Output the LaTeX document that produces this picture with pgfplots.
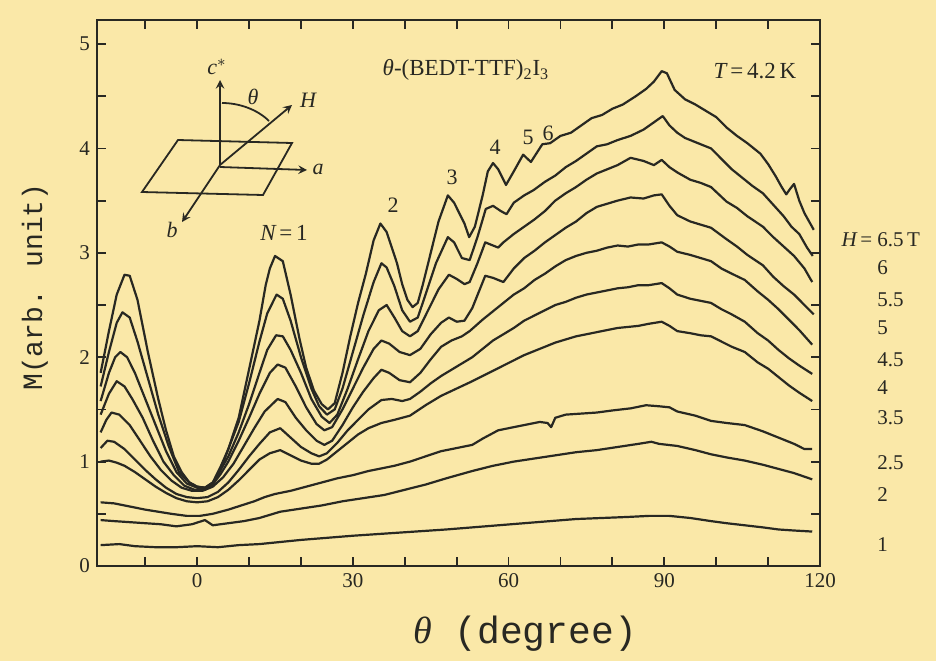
\documentclass[border=0pt]{standalone}
\usepackage{pgfplots}
\pgfplotsset{compat=1.18}
\usepackage{fontspec}
\setmainfont{Liberation Serif}
\newfontfamily\monof{Liberation Mono}
\definecolor{bg}{RGB}{250,232,168}
\definecolor{ink}{RGB}{40,40,34}
\begin{document}
\begin{tikzpicture}
\fill[bg] (0,0) rectangle (468pt,330.5pt);
\useasboundingbox (0,0) rectangle (468pt,330.5pt);
\begin{axis}[
  at={(48.5pt,47.5pt)}, anchor=south west, scale only axis,
  width=361.5pt, height=273pt,
  xmin=-19.3, xmax=120, ymin=0, ymax=5.23,
  xtick={0,30,60,90,120},
  minor xtick={-10,10,20,40,50,70,80,100,110},
  ytick={0,1,2,3,4,5},
  minor ytick={0.5,1.5,2.5,3.5,4.5},
  tick align=inside,
  major tick length=4.5pt, minor tick length=4.5pt,
  tick style={line width=0.9pt, ink},
  axis line style={line width=1pt, ink},
  tick label style={font=\fontsize{10.5}{12}\selectfont, text=ink},
  /pgf/number format/assume math mode=true,
  cycle list={{ink}},
  every axis plot post/.append style={ink, solid, line width=1.1pt, mark=none, line join=round},
  clip=true,
]
% H = 6.5 T
\addplot coordinates {(-18.6,1.85) (-17,2.25) (-15.5,2.6) (-14,2.79) (-13,2.78) (-11.5,2.55) (-9.5,2.05) (-7.5,1.6) (-6,1.3) (-4.5,1.05) (-3,0.9) (-1.5,0.8) (0,0.76) (1.5,0.75) (3,0.78) (4.5,0.92) (6,1.12) (8,1.42) (10.5,2.0) (12,2.35) (13.2,2.69) (14,2.85) (15,2.97) (16.5,2.92) (18,2.6) (19.7,2.18) (21,1.9) (22.5,1.68) (24,1.55) (25.2,1.5) (26.5,1.56) (28,1.85) (29.5,2.2) (31,2.52) (32.5,2.8) (34,3.12) (35.3,3.28) (36.5,3.2) (37.5,3.05) (38.5,2.9) (39.5,2.7) (40.5,2.55) (41.5,2.48) (42.5,2.52) (43.5,2.7) (45,3.0) (46.5,3.3) (48.3,3.55) (49.5,3.48) (50.5,3.38) (51.5,3.28) (52.4,3.15) (53.5,3.25) (55,3.55) (56,3.78) (57,3.86) (58,3.8) (59.5,3.65) (61,3.78) (62.8,3.94) (64.3,3.87) (66.5,4.04) (68,4.05) (70,4.12) (72,4.15) (74,4.22) (76,4.29) (78,4.32) (80,4.38) (82,4.42) (84.5,4.5) (86.5,4.57) (88,4.64) (89.5,4.74) (90.5,4.72) (92,4.56) (94,4.47) (96,4.42) (98,4.36) (100,4.3) (102,4.2) (104,4.12) (106,4.05) (108.5,3.95) (110,3.85) (111.5,3.73) (112.5,3.64) (113.5,3.56) (114.2,3.61) (115,3.66) (116,3.5) (117,3.38) (118.8,3.22)};
% H = 6 T
\addplot coordinates {(-18.6,1.72) (-17,2.05) (-15.5,2.33) (-14.4,2.43) (-13,2.38) (-11.5,2.15) (-9.5,1.8) (-7.5,1.45) (-5.5,1.15) (-3.5,0.9) (-1.5,0.8) (0,0.76) (1.5,0.75) (3,0.8) (4.5,0.95) (6,1.12) (8,1.38) (10,1.75) (12,2.15) (13.5,2.42) (15.3,2.6) (16.5,2.56) (18,2.35) (20,2.0) (22,1.7) (23.5,1.53) (25,1.45) (26.5,1.5) (28,1.7) (30,2.05) (32,2.4) (34,2.72) (35.5,2.9) (36.5,2.86) (38,2.68) (39.5,2.45) (41,2.34) (42.5,2.38) (44,2.6) (46,2.9) (48.3,3.15) (49.5,3.1) (51,2.95) (52.5,2.93) (54,3.15) (55.6,3.42) (57,3.45) (58.5,3.4) (59.6,3.37) (61,3.48) (63,3.55) (64.8,3.6) (67,3.68) (69,3.74) (71,3.82) (73,3.88) (75,3.95) (77,4.02) (79,4.04) (81,4.08) (83.5,4.12) (86,4.18) (88,4.25) (89.7,4.31) (91,4.22) (92.5,4.15) (94,4.1) (96,4.06) (99,4.0) (101,3.9) (103,3.8) (105,3.72) (107,3.64) (109,3.57) (111,3.46) (113,3.35) (114.5,3.25) (116,3.18) (117.5,3.05) (118.6,2.97)};
% H = 5.5 T
\addplot coordinates {(-18.6,1.58) (-17,1.85) (-15.8,2.0) (-14.8,2.05) (-13.5,2.0) (-12,1.85) (-10,1.6) (-8,1.35) (-6,1.1) (-4,0.9) (-2,0.79) (0,0.75) (1.5,0.75) (3,0.8) (4.5,0.92) (6,1.05) (8,1.28) (10,1.55) (12,1.85) (13.5,2.07) (15.2,2.21) (16.5,2.2) (18,2.07) (20,1.85) (22,1.6) (24,1.43) (25.5,1.37) (27,1.45) (29,1.7) (31,1.98) (33,2.25) (35,2.45) (36.5,2.5) (38,2.38) (39.5,2.25) (41,2.2) (42.5,2.25) (44.5,2.45) (46.5,2.65) (48.5,2.79) (50,2.75) (51.5,2.7) (52.5,2.72) (54,2.9) (55.5,3.1) (57,3.07) (58,3.05) (59,3.1) (61,3.18) (63,3.25) (65,3.32) (67,3.4) (69,3.5) (71,3.57) (73,3.63) (75,3.7) (77,3.76) (79,3.8) (81,3.84) (83.5,3.91) (86,3.88) (88,3.84) (89.5,3.89) (91,3.82) (92.5,3.77) (95,3.7) (97,3.67) (99,3.63) (102,3.49) (104,3.43) (106,3.35) (109,3.25) (111,3.15) (113,3.06) (115,2.97) (117,2.85) (118.5,2.72)};
% H = 5 T
\addplot coordinates {(-18.6,1.45) (-17,1.65) (-15.5,1.77) (-14,1.72) (-12.5,1.6) (-10.5,1.42) (-8.5,1.2) (-6.5,1.0) (-4.5,0.87) (-2.5,0.77) (-0.5,0.73) (1.5,0.73) (3,0.78) (4.5,0.88) (6,1.0) (8,1.2) (10,1.42) (12,1.65) (14,1.85) (15.5,1.93) (17,1.9) (19,1.72) (21,1.52) (23,1.36) (24.5,1.3) (26,1.33) (28,1.5) (30,1.7) (32,1.9) (34,2.08) (35.5,2.16) (37,2.13) (39,2.05) (41,2.02) (43,2.08) (45,2.22) (47,2.33) (48.5,2.38) (50,2.34) (51.5,2.35) (53,2.47) (55.5,2.78) (57,2.76) (59,2.72) (61,2.85) (63,2.95) (65,3.02) (67,3.1) (69,3.17) (71,3.24) (73,3.3) (75,3.38) (77,3.44) (79,3.47) (81,3.5) (83.5,3.53) (86,3.52) (88,3.55) (89.5,3.56) (91,3.45) (92.5,3.36) (95,3.3) (97,3.27) (99,3.24) (102,3.13) (104,3.06) (106,2.98) (109,2.88) (111,2.77) (113,2.68) (115,2.6) (117,2.5) (118.8,2.41)};
% H = 4.5 T
\addplot coordinates {(-18.6,1.28) (-17.5,1.4) (-16.5,1.47) (-15,1.45) (-13,1.35) (-11,1.2) (-9,1.05) (-7,0.92) (-5,0.82) (-3,0.75) (-1,0.72) (1,0.72) (3,0.76) (5,0.85) (7,0.98) (9,1.15) (11,1.32) (13,1.48) (15.5,1.6) (17,1.57) (19,1.42) (21,1.3) (23,1.2) (24.5,1.16) (26,1.2) (28,1.35) (30,1.52) (32,1.67) (34,1.8) (35.5,1.88) (37,1.85) (39,1.78) (41,1.76) (43,1.85) (45,1.98) (47,2.1) (49,2.16) (51,2.2) (52.5,2.25) (55,2.36) (57,2.44) (59,2.52) (61,2.6) (63,2.66) (65,2.74) (67,2.8) (69,2.87) (71,2.93) (73,2.97) (75,3.0) (77,3.02) (79,3.05) (81,3.07) (83,3.06) (85,3.08) (87,3.08) (89.5,3.1) (91,3.06) (92.5,3.01) (95,2.98) (97,2.95) (99,2.92) (101,2.85) (103,2.8) (105.5,2.74) (108,2.63) (110,2.55) (112,2.46) (114,2.36) (116,2.26) (118.5,2.12)};
% H = 4 T
\addplot coordinates {(-18.6,1.13) (-17.3,1.2) (-16,1.19) (-14,1.12) (-12,1.02) (-10,0.92) (-8,0.83) (-6,0.75) (-4,0.69) (-2,0.66) (0,0.65) (2,0.66) (4,0.71) (6,0.8) (8,0.92) (10,1.05) (12,1.17) (14,1.28) (16,1.32) (18,1.23) (20,1.14) (22,1.08) (23.5,1.05) (25,1.08) (27,1.18) (29,1.3) (31,1.4) (33,1.5) (35.5,1.59) (37.5,1.6) (39.5,1.58) (41,1.6) (43,1.67) (45,1.75) (47,1.82) (49,1.88) (51,1.94) (53,2.0) (55,2.08) (57,2.16) (59,2.22) (61,2.28) (63,2.35) (65,2.4) (67,2.45) (69,2.5) (71,2.53) (73,2.57) (75,2.6) (77,2.62) (79,2.64) (81,2.66) (83,2.67) (85,2.69) (87,2.69) (89.5,2.71) (91,2.66) (92.5,2.6) (95,2.56) (97,2.54) (99,2.52) (101,2.46) (103,2.41) (105.5,2.34) (108,2.23) (110,2.16) (112,2.07) (114,1.99) (116,1.92) (118.5,1.84)};
% H = 3.5 T
\addplot coordinates {(-18.6,1.0) (-17,1.01) (-15.5,0.99) (-14,0.96) (-12,0.9) (-10,0.83) (-8,0.76) (-6,0.7) (-4,0.65) (-2,0.62) (0,0.61) (2,0.62) (4,0.66) (6,0.73) (8,0.82) (10,0.92) (12,1.02) (14,1.08) (16,1.11) (18,1.06) (20,1.01) (22,0.98) (23.5,0.98) (25,1.02) (27,1.1) (29,1.18) (31,1.26) (33,1.32) (35.5,1.37) (38,1.4) (41,1.44) (44,1.54) (47,1.63) (50,1.7) (53,1.77) (55,1.82) (57,1.87) (59,1.92) (61,1.97) (63,2.02) (65,2.06) (67,2.1) (69,2.14) (71,2.17) (73,2.2) (75,2.22) (77,2.24) (79,2.26) (81,2.28) (83,2.29) (85,2.3) (87,2.32) (89.5,2.34) (91,2.3) (92.5,2.25) (95,2.23) (97,2.21) (99,2.2) (101,2.15) (103,2.1) (105.5,2.05) (108,1.95) (110,1.89) (112,1.81) (114,1.73) (116,1.66) (118.5,1.58)};
% H = 2.5 T
\addplot coordinates {(-18.6,0.61) (-16,0.6) (-13,0.57) (-10,0.54) (-7.5,0.52) (-5,0.5) (-2,0.48) (0.5,0.48) (3,0.5) (6,0.54) (8.5,0.58) (11,0.62) (13,0.66) (15,0.69) (18,0.72) (21,0.76) (24,0.8) (27,0.84) (30,0.87) (33,0.91) (36,0.94) (38,0.96) (41,1.0) (44,1.05) (47,1.1) (50,1.13) (53,1.16) (55,1.22) (58,1.3) (61,1.33) (64,1.36) (66,1.38) (67.5,1.37) (68.2,1.33) (69,1.42) (71,1.45) (74,1.46) (77,1.47) (80,1.49) (83.5,1.51) (86.5,1.54) (89,1.53) (91,1.52) (92.5,1.48) (96,1.44) (99,1.39) (102,1.37) (105.5,1.35) (109,1.29) (112,1.23) (115,1.17) (117,1.12) (118.5,1.12)};
% H = 2 T
\addplot coordinates {(-18.6,0.44) (-16,0.43) (-13,0.42) (-10,0.41) (-7,0.4) (-4,0.38) (-1,0.4) (1.5,0.44) (3,0.39) (6,0.41) (9,0.43) (12,0.46) (16,0.52) (20,0.55) (24,0.58) (28,0.62) (32,0.65) (36,0.68) (40,0.73) (44,0.78) (48,0.84) (53,0.91) (57,0.96) (61,1.0) (65,1.03) (69,1.06) (73,1.09) (77,1.11) (81,1.14) (85,1.17) (87.5,1.19) (89,1.17) (92.5,1.15) (96,1.11) (99,1.07) (102,1.04) (105.5,1.01) (109,0.97) (112,0.93) (115,0.89) (118.5,0.83)};
% H = 1 T
\addplot coordinates {(-18.6,0.2) (-15,0.21) (-12,0.19) (-8,0.18) (-4,0.18) (0,0.19) (4,0.18) (8,0.2) (12,0.21) (16,0.23) (20,0.25) (25,0.27) (30,0.29) (36,0.31) (42,0.33) (48,0.35) (53,0.37) (58,0.39) (63,0.41) (68,0.43) (73,0.45) (78,0.46) (83,0.47) (87,0.48) (91,0.48) (95,0.46) (99,0.43) (102,0.41) (105.5,0.39) (109,0.37) (112,0.35) (115,0.34) (118.5,0.33)};
\end{axis}
\begin{scope}[x=0.5pt,y=-0.5pt,yshift=330.5pt, text=ink]
% axis labels
\node[rotate=90, font=\monof\fontsize{14}{16}\selectfont] at (35,287) {M(arb. unit)};
\node[font=\monof\fontsize{19}{21}\selectfont] at (525,634) {{\rmfamily\itshape θ} (degree)};
% annotations
\node[font=\fontsize{11.5}{13}\selectfont] at (466,70) {{\itshape θ}-(BEDT-TTF)$_{\mathrm{2}}$I$_{\mathrm{3}}$};
\node[font=\fontsize{11.5}{13}\selectfont] at (755,71) {{\itshape T}\,=\,4.2\,K};
\node[font=\fontsize{11.5}{13}\selectfont] at (284,233) {{\itshape N}\,=\,1};
\node[font=\fontsize{11}{13}\selectfont] at (393,205) {2};
\node[font=\fontsize{11}{13}\selectfont] at (452,177) {3};
\node[font=\fontsize{11}{13}\selectfont] at (495,147) {4};
\node[font=\fontsize{11}{13}\selectfont] at (528,137) {5};
\node[font=\fontsize{11}{13}\selectfont] at (548,133) {6};
% field labels
\begin{scope}[every node/.style={font=\fontsize{10.5}{12}\selectfont, anchor=west, inner sep=0pt}]
\node[anchor=east] at (876,240) {{\itshape H}\,=\,};
\node at (877,240) {6.5\,T};
\node at (877,268) {6};
\node at (877,300) {5.5};
\node at (877,328) {5};
\node at (877,360) {4.5};
\node at (877,388) {4};
\node at (877,418) {3.5};
\node at (877,463) {2.5};
\node at (877,495) {2};
\node at (877,545) {1};
\end{scope}
% inset diagram
\begin{scope}[draw=ink, line width=0.9pt, >=stealth]
\draw (142,192) -- (178,140) -- (292,143) -- (263,195) -- cycle;
\draw[->] (220,165) -- (220,80);
\draw[->] (220,167) -- (307,170);
\draw[->] (220,165) -- (292,105);
\draw[->] (220,165) -- (182,222);
\draw (222,103) .. controls (240,103) and (258,110) .. (269,121);
\end{scope}
\node[font=\fontsize{11}{13}\selectfont\itshape] at (217,67) {c$^{*}$};
\node[font=\fontsize{11}{13}\selectfont\itshape] at (253,97) {θ};
\node[font=\fontsize{11}{13}\selectfont\itshape] at (308,100) {H};
\node[font=\fontsize{11}{13}\selectfont\itshape] at (318,169) {a};
\node[font=\fontsize{11}{13}\selectfont\itshape] at (172,230) {b};
\end{scope}
\end{tikzpicture}
\end{document}
